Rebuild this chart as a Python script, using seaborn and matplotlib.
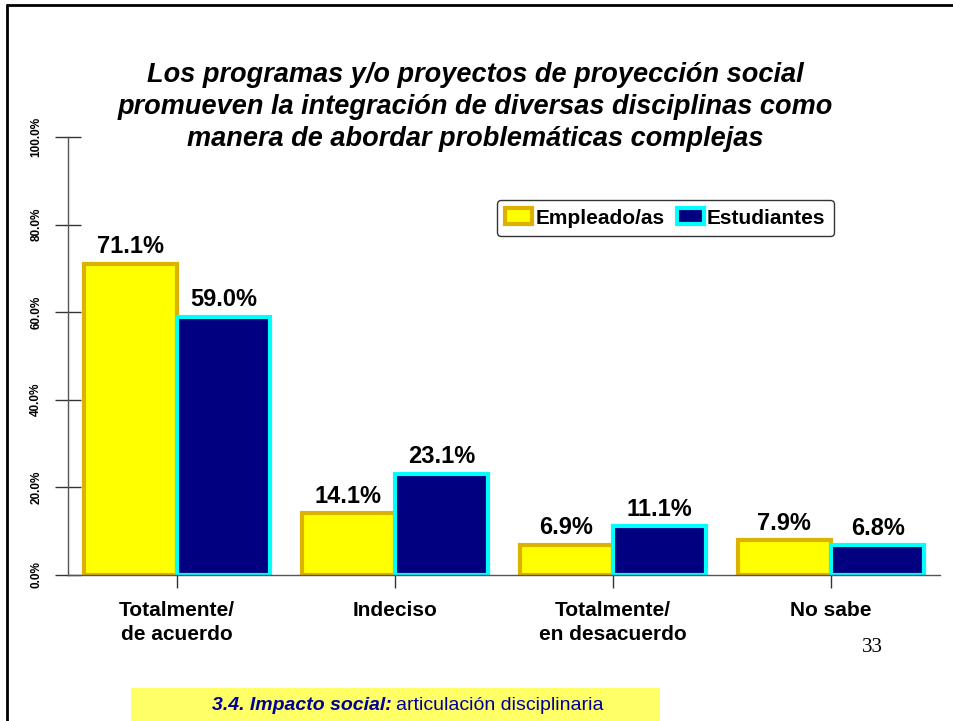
import numpy as np
import pandas as pd
import matplotlib.pyplot as plt
import matplotlib.patches as mpatches
import seaborn as sns

categories = ['Totalmente/\nde acuerdo', 'Indeciso', 'Totalmente/\nen desacuerdo', 'No sabe']
empleados = [71.1, 14.1, 6.9, 7.9]
estudiantes = [59.0, 23.1, 11.1, 6.8]
series = ['Empleado/as', 'Estudiantes']
yticks = [0, 20, 40, 60, 80, 100]

df = pd.DataFrame({
    'cat': categories * 2,
    'val': empleados + estudiantes,
    'grupo': [series[0]] * 4 + [series[1]] * 4,
})

sns.set_style('white')
plt.rcParams['font.family'] = ['Liberation Sans', 'DejaVu Sans']
plt.rcParams['text.color'] = 'black'
plt.rcParams['xtick.color'] = 'black'
plt.rcParams['ytick.color'] = 'black'

fig = plt.figure(figsize=(9.54, 7.21), dpi=100)
ax = fig.add_axes([68/954, 1-575/721, 872/954, 438/721])

face = {series[0]: '#FFFF00', series[1]: '#000080'}
edge = {series[0]: '#DDB100', series[1]: '#00FFFF'}

sns.barplot(data=df, x='cat', y='val', hue='grupo', palette=face,
            width=0.855, ax=ax, legend=False, saturation=1)

for cont, s in zip(ax.containers, series):
    for p in cont:
        p.set_edgecolor(edge[s])
        p.set_linewidth(3)
    ax.bar_label(cont, fmt='%.1f%%', padding=4, fontsize=17, fontweight='bold')

ax.set_xlim(-0.5, 3.5)
ax.set_ylim(0, 100)
ax.set_yticks(yticks)
ax.set_yticklabels([f'{v:.1f}%' for v in yticks], rotation=90, va='center',
                   fontsize=8.5, fontweight='bold')
ax.set_xticks(range(4))
ax.set_xticklabels(categories, fontsize=15, fontweight='bold', linespacing=1.3)
ax.set_xlabel('')
ax.set_ylabel('')

for s in ['top', 'right']:
    ax.spines[s].set_visible(False)
ax.spines['left'].set_color('#555555')
ax.spines['bottom'].set_color('#555555')
ax.spines['left'].set_linewidth(1)
ax.spines['bottom'].set_linewidth(1)
ax.tick_params(axis='y', left=True, direction='inout', length=19, width=1,
               color='#333333', pad=9)
ax.tick_params(axis='x', bottom=True, direction='inout', length=18, width=1,
               color='#333333', pad=10)

handles = [mpatches.Patch(facecolor=face[s], edgecolor=edge[s], linewidth=3) for s in series]
leg = ax.legend(handles, series, ncol=2, loc='center', bbox_to_anchor=(0.685, 0.815),
                prop={'size': 15, 'weight': 'bold'}, frameon=True, fancybox=True,
                edgecolor='black', handlelength=1.3, handleheight=0.8,
                handletextpad=0.15, columnspacing=0.6, borderpad=0.4)
leg.get_frame().set_linewidth(1)

fig.text(475/954, 1-107/721,
         'Los programas y/o proyectos de proyección social\n'
         'promueven la integración de diversas disciplinas como\n'
         'manera de abordar problemáticas complejas',
         ha='center', va='center', fontsize=19.5, fontweight='bold', style='italic',
         linespacing=1.29)

# slide frame
fig.add_artist(plt.Line2D([7/954, 7/954], [0, 1-5/721], transform=fig.transFigure,
                          color='black', linewidth=2))
fig.add_artist(plt.Line2D([7/954, 1], [1-5/721, 1-5/721], transform=fig.transFigure,
                          color='black', linewidth=2))

fig.text(872/954, 1-648/721, '33', family='Liberation Serif', fontsize=15,
         ha='center', va='center')

fig.add_artist(mpatches.Rectangle((131/954, 0), (660-131)/954, 33/721,
                                  transform=fig.transFigure, facecolor='#FFFF66',
                                  edgecolor='none'))
t1 = fig.text(212/954, 1-705/721, '3.4. Impacto social:', fontsize=14, fontweight='bold',
              style='italic', color='#000099', ha='left', va='center')
fig.canvas.draw()
bb = t1.get_window_extent()
fig.text((bb.x1 + 4)/954, 1-705/721, 'articulación disciplinaria', fontsize=14,
         color='#000099', ha='left', va='center')

fig.savefig('out.png', dpi=100)
